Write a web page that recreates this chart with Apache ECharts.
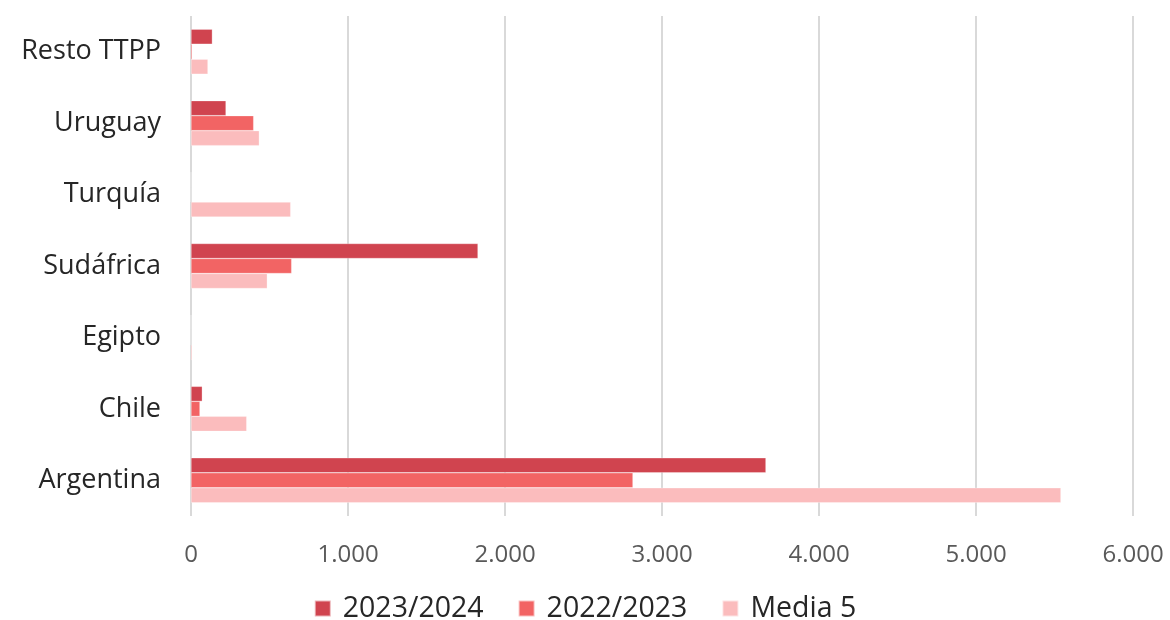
<!DOCTYPE html>
<html>
<head>
<meta charset="utf-8">
<script src="https://cdn.jsdelivr.net/npm/echarts@6/dist/echarts.min.js"></script>
<style>html,body{margin:0;padding:0;background:#fff}#c{width:1170px;height:620px}</style>
</head>
<body>
<div id="c"></div>
<script>
const categories = ['Argentina', 'Chile', 'Egipto', 'Sudáfrica', 'Turquía', 'Uruguay', 'Resto TTPP'];
const s2324 = [3662, 72, 0, 1828, 0, 223, 136];
const s2223 = [2815, 57, 0, 641, 0, 399, 8];
const media5 = [5541, 355, 8, 486, 635, 435, 108];
const seriesNames = ['2023/2024', '2022/2023', 'Media 5'];
const colors = ['#D0444F', '#F26464', '#FBBCBD'];

const chart = echarts.init(document.getElementById('c'));
const fontFam = '"Open Sans", "Noto Sans", sans-serif';
const mk = (name, data, color) => ({
  name, type: 'bar', data,
  itemStyle: { color, borderColor: 'rgba(255,255,255,0.6)', borderWidth: 0.5 },
  barGap: '0%', barCategoryGap: '37%'
});
chart.setOption({
  animation: false,
  color: colors,
  grid: { left: 191, right: 37, top: 16, bottom: 104 },
  legend: {
    bottom: -8, left: 'center', itemWidth: 16, itemHeight: 16, itemGap: 34,
    icon: 'rect',
    textStyle: { fontSize: 28.5, color: '#262626', fontFamily: fontFam, padding: [0, 0, 0, 7] },
    data: seriesNames
  },
  xAxis: {
    type: 'value', min: 0, max: 6000, interval: 1000,
    axisLine: { show: false }, axisTick: { show: false },
    splitLine: { lineStyle: { color: '#D9D9D9', width: 2 } },
    axisLabel: {
      fontSize: 24, color: '#595959', fontFamily: fontFam, margin: 27,
      formatter: v => v === 0 ? '0' : v.toLocaleString('de-DE')
    }
  },
  yAxis: {
    type: 'category', data: categories,
    axisLine: { show: false }, axisTick: { show: false },
    axisLabel: { fontSize: 27, color: '#262626', fontFamily: fontFam, margin: 30 }
  },
  series: [
    mk(seriesNames[0], s2324, colors[0]),
    mk(seriesNames[1], s2223, colors[1]),
    mk(seriesNames[2], media5, colors[2])
  ]
});
</script>
</body>
</html>
